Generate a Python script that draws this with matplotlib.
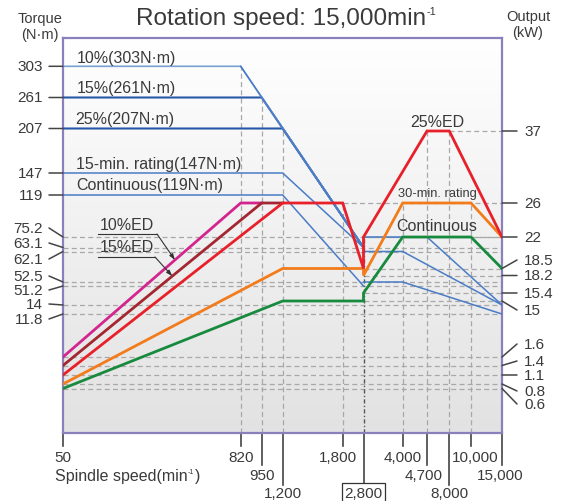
import numpy as np
import matplotlib
matplotlib.use("Agg")
import matplotlib.pyplot as plt
from matplotlib import transforms
from matplotlib.lines import Line2D
from matplotlib.colors import LinearSegmentedColormap

plt.rcParams['font.family'] = ['Liberation Sans', 'DejaVu Sans']

# ---------------- data ----------------
# spindle speed ticks (min-1)
speed_ticks = [50, 820, 950, 1200, 1800, 2800, 4000, 4700, 8000, 10000, 15000]
speed_labels = ['50', '820', '950', '1,200', '1,800', '2,800', '4,000',
                '4,700', '8,000', '10,000', '15,000']

# torque ticks (N·m) left, output ticks (kW) right
torque_ticks = [303, 261, 207, 147, 119, 75.2, 63.1, 62.1, 52.5, 51.2, 14, 11.8]
power_ticks = [37, 26, 22, 18.5, 18.2, 15.4, 15, 1.6, 1.4, 1.1, 0.8, 0.6]

# torque curves (N·m), low speed winding
tq_10_speed, tq_10 = [50, 820, 2800], [303, 303, 63.1]
tq_15_speed, tq_15 = [50, 950, 2800], [261, 261, 63.1]
tq_25_speed, tq_25 = [50, 1200, 2800], [207, 207, 63.1]
tq_15min_speed, tq_15min = [50, 1200, 2800], [147, 147, 63.1]
tq_cont_speed, tq_cont = [50, 1200, 2800], [119, 119, 51.2]
# torque curves (N·m), high speed winding
tq_hi25_speed, tq_hi25 = [2800, 4700, 15000], [75.2, 75.2, 14]
tq_hi30_speed, tq_hi30 = [2800, 4000, 15000], [62.1, 62.1, 14]
tq_hicont_speed, tq_hicont = [2800, 4000, 15000], [52.5, 52.5, 11.8]

# output curves (kW)
pw_10ed_speed, pw_10ed = [50, 820, 950], [1.6, 26, 26]
pw_15ed_speed, pw_15ed = [50, 950, 1200], [1.4, 26, 26]
pw_25ed_speed = [50, 1200, 1800, 2800, 2800, 4700, 8000, 15000]
pw_25ed = [1.1, 26, 26, 18.5, 22, 37, 37, 22]
pw_30min_speed = [50, 1200, 2800, 2800, 4000, 10000, 15000]
pw_30min = [0.8, 18.5, 18.5, 18.2, 26, 26, 22]
pw_cont_speed = [50, 1200, 2800, 2800, 4000, 10000, 15000]
pw_cont = [0.6, 15, 15, 15.4, 22, 22, 18.5]

# ---------------- layout (schematic axes, pixels) ----------------
W, H = 566, 502
L, T, R, B = 63, 39, 502, 434
speed_px = [63, 240.7, 261.7, 282.7, 342.7, 363.5, 402.7, 427, 449.3, 471, 502]
speed_row = [0, 0, 1, 2, 0, 2, 0, 1, 2, 0, 1]
speed_dx = [0, 0, 0, 0, -5, 0, 0, -3, 0, 4, -2]
torque_px = [67.3, 98.5, 129.5, 174, 196, 238, 248.5, 252.5, 283, 287, 306, 315]
torque_dy = [0, 0, 0, 0, 0, -9, -4.5, 7.5, -6, 4, -1, 5]
power_px = [132, 204, 238, 269.5, 276.5, 294, 302, 358, 366.5, 376, 385, 389.5]
power_dy = [0, 0, 0, -8.5, 0, 0, 9, -13, -4.5, 0, 7, 15.5]
torque_lim, torque_lim_px = (5, 420), (B, T)
power_lim, power_lim_px = (0.3, 60), (B, T)
power_dash_from = [8000, 1800, 2800, 2800, 2800, 2800, 2800, 50, 50, 50, 50, 50]

TXT = '#3a3a3a'
TICK = '#444444'
FS = 11


def schematic(vals, pix):
    lv = np.log10(np.asarray(vals, float))
    p = np.asarray(pix, float)
    o = np.argsort(lv)
    lv, p = lv[o], p[o]

    def fwd(x):
        x = np.asarray(x, float)
        return np.interp(np.log10(np.maximum(x, 1e-9)), lv, p)

    def inv(y):
        return 10 ** np.interp(np.asarray(y, float), p, lv)
    return fwd, inv


fig = plt.figure(figsize=(W / 100, H / 100), dpi=100)
renderer = fig.canvas.get_renderer()
rect = [L / W, 1 - B / H, (R - L) / W, (B - T) / H]

# gradient background
bg = fig.add_axes(rect, zorder=0)
bg.imshow(np.linspace(0, 1, 256)[:, None], aspect='auto', extent=[0, 1, 0, 1],
          cmap=LinearSegmentedColormap.from_list('bg', ['#ffffff', '#e2e2e2']))
bg.axis('off')

ax = fig.add_axes(rect, zorder=1)
ax.patch.set_visible(False)
ax2 = ax.twinx()
ax2.set_zorder(2)
ax2.patch.set_visible(False)

ax.set_xscale('function', functions=schematic(speed_ticks, speed_px))
ax.set_xlim(50, 15000)
ax.set_yscale('function', functions=schematic(
    torque_ticks + list(torque_lim), [-p for p in torque_px + list(torque_lim_px)]))
ax.set_ylim(*torque_lim)
ax2.set_yscale('function', functions=schematic(
    power_ticks + list(power_lim), [-p for p in power_px + list(power_lim_px)]))
ax2.set_ylim(*power_lim)

for a in (ax, ax2):
    a.tick_params(which='both', left=False, right=False, bottom=False, top=False,
                  labelleft=False, labelright=False, labelbottom=False)
for s in ax.spines.values():
    s.set_color('#8c80bc')
    s.set_linewidth(1.6)
for s in ax2.spines.values():
    s.set_visible(False)

# dashed guide lines
dash = dict(color='#a8a8a8', lw=0.9, ls=(0, (4, 2.6)), zorder=1)
for v in torque_ticks[5:]:
    ax.plot([50, 15000], [v, v], **dash)
for v, s0 in zip(power_ticks, power_dash_from):
    ax.plot([s0, 15000], [v, v], transform=ax2.transData, **dash)
for s, v in zip([820, 950, 1200], [303, 261, 207]):
    ax.plot([s, s], [torque_lim[0], v], **dash)
for s, v in zip([1800, 4000, 4700, 8000, 10000], [26, 26, 37, 37, 26]):
    ax.plot([s, s], [power_lim[0], v], transform=ax2.transData, **dash)
ax.plot([2800, 2800], [power_lim[0], 22], transform=ax2.transData,
        color='#555555', lw=1.0, ls=(0, (3, 1.6, 1, 1.6)), zorder=1)

# torque curves
b_mid, b_dark, b_light = '#4a7cc6', '#2658a8', '#7aa0d6'
ax.plot(tq_15_speed, tq_15, color=b_dark, lw=1.5, zorder=3)
ax.plot(tq_25_speed, tq_25, color=b_dark, lw=1.5, zorder=3)
ax.plot(tq_10_speed, tq_10, color=b_light, lw=1.2, zorder=3)
ax.plot(tq_10_speed[1:], tq_10[1:], color=b_mid, lw=1.1, zorder=3)
ax.plot(tq_15min_speed, tq_15min, color=b_mid, lw=1.1, zorder=3)
ax.plot(tq_cont_speed, tq_cont, color=b_mid, lw=1.1, zorder=3)
for sp, tq in [(tq_hi25_speed, tq_hi25), (tq_hi30_speed, tq_hi30), (tq_hicont_speed, tq_hicont)]:
    ax.plot(sp, tq, color=b_mid, lw=1.1, zorder=3)

# output curves
ax2.plot(pw_cont_speed, pw_cont, color='#178a3e', lw=2.0, solid_joinstyle='miter')
ax2.plot(pw_30min_speed, pw_30min, color='#f27c1c', lw=2.0, solid_joinstyle='miter')
ax2.plot(pw_10ed_speed, pw_10ed, color='#d4258f', lw=2.0)
ax2.plot(pw_15ed_speed, pw_15ed, color='#a32630', lw=2.0)
ax2.plot(pw_25ed_speed, pw_25ed, color='#e8202a', lw=2.0, solid_joinstyle='miter')

# left ticks (torque)
for v, dy in zip(torque_ticks, torque_dy):
    ax.annotate('', xy=(0, v), xycoords=('axes fraction', 'data'),
                xytext=(-14, -dy), textcoords='offset pixels', annotation_clip=False,
                arrowprops=dict(arrowstyle='-', color=TICK, lw=1.1,
                                shrinkA=0, shrinkB=0, patchA=None))
    ax.annotate(f'{v:g}', xy=(0, v), xycoords=('axes fraction', 'data'),
                xytext=(-20, -dy), textcoords='offset pixels', annotation_clip=False,
                ha='right', va='center', fontsize=FS, color=TXT)

# right ticks (output)
for v, dy in zip(power_ticks, power_dy):
    ax2.annotate('', xy=(1, v), xycoords=('axes fraction', 'data'),
                 xytext=(15, -dy), textcoords='offset pixels', annotation_clip=False,
                 arrowprops=dict(arrowstyle='-', color=TICK, lw=1.1,
                                 shrinkA=0, shrinkB=0, patchA=None))
    ax2.annotate(f'{v:g}', xy=(1, v), xycoords=('axes fraction', 'data'),
                 xytext=(22, -dy), textcoords='offset pixels', annotation_clip=False,
                 ha='left', va='center', fontsize=FS, color=TXT)

# bottom ticks (speed)
xt = ax.get_xaxis_transform()
ax_h = B - T
row_tick = [13, 32, 52]
row_lab = [24, 42, 60]
for v, lab, row, dx in zip(speed_ticks, speed_labels, speed_row, speed_dx):
    ax.plot([v, v], [0, -row_tick[row] / ax_h], transform=xt, clip_on=False,
            color=TICK, lw=1.2)
    box = None
    if v == 2800:
        box = dict(boxstyle='square,pad=0.18', fc='white', ec='#333333', lw=0.9)
    ax.text(v, 0, lab, transform=transforms.offset_copy(xt, fig=fig, x=dx, y=-row_lab[row], units='dots'),
            ha='center', va='center', fontsize=FS, color=TXT, bbox=box, clip_on=False)

# curve labels
lab_kw = dict(textcoords='offset pixels', va='center', ha='left', fontsize=11.5, color=TXT,
              annotation_clip=False)
ax.annotate('10%(303N·m)', xy=(50, 303), xytext=(14, 9), **lab_kw)
ax.annotate('15%(261N·m)', xy=(50, 261), xytext=(14, 9.5), **lab_kw)
ax.annotate('25%(207N·m)', xy=(50, 207), xytext=(12, 9.5), **lab_kw)
ax.annotate('15-min. rating(147N·m)', xy=(50, 147), xytext=(13, 9), **lab_kw)
ax.annotate('Continuous(119N·m)', xy=(50, 119), xytext=(13, 10.5), **lab_kw)

ctr_kw = dict(textcoords='offset pixels', va='center', ha='center', color=TXT)
ax2.annotate('25%ED', xy=(4700, 37), xytext=(10, 9.5), fontsize=11.5, **ctr_kw)
ax2.annotate('30-min. rating', xy=(4700, 26), xytext=(10, 10), fontsize=9.3, **ctr_kw)
ax2.annotate('Continuous', xy=(4700, 22), xytext=(10, 11), fontsize=11.5, **ctr_kw)


def leader(text, sp, pw, t, text_xy, under_y, under_x1):
    p0 = ax2.transData.transform((sp[0], pw[0]))
    p1 = ax2.transData.transform((sp[1], pw[1]))
    tgt = ax2.transData.inverted().transform(p0 + t * (p1 - p0))
    fig.text(text_xy[0] / W, 1 - text_xy[1] / H, text, ha='left', va='center',
             fontsize=11.5, color=TXT)
    fig.add_artist(Line2D([text_xy[0] - 2, under_x1], [H - under_y, H - under_y],
                          transform=transforms.IdentityTransform(), color='#333333', lw=0.8))
    ax2.annotate('', xy=tgt, xytext=(under_x1, H - under_y), textcoords='figure pixels',
                 arrowprops=dict(arrowstyle='-|>,head_length=0.35,head_width=0.12',
                                 color='#333333', lw=0.8, shrinkA=0, shrinkB=0))


leader('10%ED', pw_10ed_speed, pw_10ed, 0.63, (100, 225), 235, 157)
leader('15%ED', pw_15ed_speed, pw_15ed, 0.55, (100, 248), 258, 155)


def sup_text(x, y, main, sup, fs, ha='left'):
    # main text plus a small raised "-1"
    t = fig.text(x / W, 1 - y / H, main, ha='left', va='center', fontsize=fs, color=TXT)
    s = fig.text(0, 0, sup, ha='left', va='center', fontsize=fs * 0.45, color=TXT)
    wm = t.get_window_extent(renderer).width
    ws = s.get_window_extent(renderer).width
    x0 = x - (wm + ws + 1) / 2 if ha == 'center' else x
    t.set_x(x0 / W)
    s.set_position(((x0 + wm + 0.5) / W, 1 - (y - fs * 0.42) / H))
    return t, s


# titles
sup_text(286, 19, 'Rotation speed: 15,000min', '-1', 17.5, ha='center')
_main, _sup = sup_text(55, 477, 'Spindle speed(min', '-1', 11.5)
_x_end = _sup.get_window_extent(renderer).x1
fig.text((_x_end + 0.3) / W, 1 - 477 / H, ')', ha='left', va='center', fontsize=11.5, color=TXT)

fig.text(40 / W, 1 - 19 / H, 'Torque', ha='center', va='center', fontsize=10.5, color=TXT)
fig.text(40 / W, 1 - 35 / H, '(N·m)', ha='center', va='center', fontsize=10.5, color=TXT)
fig.text(528 / W, 1 - 17 / H, 'Output', ha='center', va='center', fontsize=10.5, color=TXT)
fig.text(528 / W, 1 - 33 / H, '(kW)', ha='center', va='center', fontsize=10.5, color=TXT)

fig.savefig('out.png', dpi=100)
